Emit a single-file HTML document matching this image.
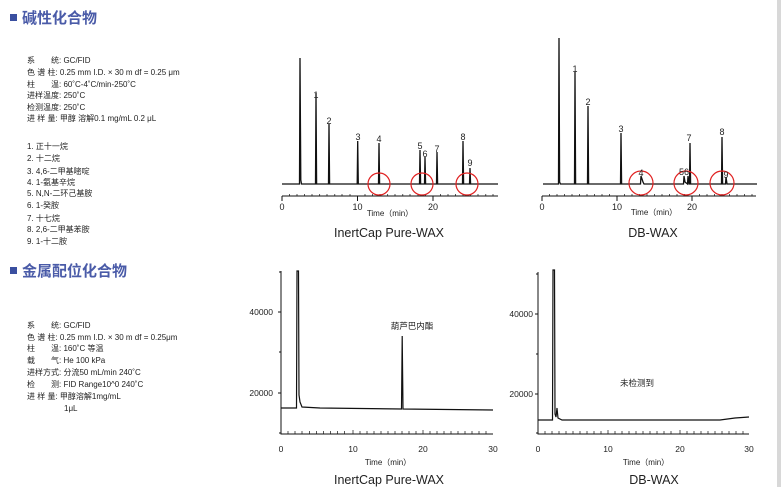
<!DOCTYPE html>
<html><head><meta charset="utf-8"><style>
html,body{margin:0;padding:0;background:#fff;}
svg{display:block;font-family:"Liberation Sans","Noto Sans CJK SC",sans-serif;}
</style></head><body>
<svg width="781" height="487" viewBox="0 0 781 487" xmlns="http://www.w3.org/2000/svg">
<rect x="777" y="0" width="4" height="487" fill="#d8d8d8"/>
<rect x="10" y="14" width="7" height="7" fill="#3a4fa0"/>
<text x="22" y="23" font-size="15" font-weight="bold" fill="#4a5ba8">碱性化合物</text>
<rect x="10" y="267" width="7" height="7" fill="#3a4fa0"/>
<text x="22" y="276" font-size="15" font-weight="bold" fill="#4a5ba8">金属配位化合物</text>

<g font-size="8" fill="#222">
<text x="27" y="63">系　　统: GC/FID</text>
<text x="27" y="75">色 谱 柱: 0.25 mm I.D. × 30 m df = 0.25 μm</text>
<text x="27" y="87">柱　　温: 60˚C-4˚C/min-250˚C</text>
<text x="27" y="98">进样温度: 250˚C</text>
<text x="27" y="110">检测温度: 250˚C</text>
<text x="27" y="121">进 样 量: 甲醇 溶解0.1 mg/mL  0.2 μL</text>
<text x="27" y="149">1. 正十一烷</text>
<text x="27" y="161">2. 十二烷</text>
<text x="27" y="174">3. 4,6-二甲基嘧啶</text>
<text x="27" y="185">4. 1-氨基辛烷</text>
<text x="27" y="196">5. N,N-二环己基胺</text>
<text x="27" y="208">6. 1-癸胺</text>
<text x="27" y="221">7. 十七烷</text>
<text x="27" y="232">8. 2,6-二甲基苯胺</text>
<text x="27" y="244">9. 1-十二胺</text>

<text x="27" y="328">系　　统: GC/FID</text>
<text x="27" y="340">色 谱 柱: 0.25 mm I.D. × 30 m df = 0.25μm</text>
<text x="27" y="351">柱　　温: 160˚C 等温</text>
<text x="27" y="363">载　　气: He 100 kPa</text>
<text x="27" y="375">进样方式: 分流50 mL/min 240˚C</text>
<text x="27" y="387">检　　测: FID Range10^0 240˚C</text>
<text x="27" y="399">进 样 量: 甲醇溶解1mg/mL</text>
<text x="64" y="411">1μL</text>
</g>

<!-- Chart 1 -->
<g stroke="#111" fill="none" stroke-width="1">
<path d="M282 184 L299.5 184 L300 58 L300.8 180 L301.5 184 L315.5 184 L316 93 L316.6 184 L328.5 184 L329 124 L329.6 184 L357.2 184 L357.7 141 L358.3 184 L378.5 184 L379 143 L379.6 184 L419.5 184 L420 150 L420.6 184 L424.5 184 L425 157 L425.6 184 L436.5 184 L437 152 L437.6 184 L462.5 184 L463 141 L463.6 184 L469.5 184 L470 168 L470.6 184 L498 184" stroke-width="1.3"/>
<path d="M282 196 H498"/>
<path d="M282 196 V201 M357.5 196 V201 M433 196 V201"/>
</g>
<g stroke="#111" stroke-width="0.7">
<path d="M289.5 196v-2M297 196v-2M304.6 196v-2M312 196v-2M319.7 196v-2M327 196v-2M334.8 196v-2M342 196v-2M350 196v-2M365 196v-2M372.6 196v-2M380 196v-2M387.7 196v-2M395 196v-2M402.8 196v-2M410 196v-2M418 196v-2M425.5 196v-2M440.5 196v-2M448 196v-2M455.6 196v-2M463 196v-2M470.7 196v-2M478 196v-2M485.8 196v-2M493 196v-2"/>
</g>
<g fill="none" stroke="#e02020" stroke-width="1.2">
<circle cx="379" cy="184" r="11"/><circle cx="422" cy="184" r="11"/><circle cx="467" cy="184" r="11"/>
</g>
<g font-size="9" fill="#222" text-anchor="middle">
<text x="316" y="98">1</text><text x="329" y="124">2</text><text x="358" y="140">3</text><text x="379" y="142">4</text>
<text x="420" y="149">5</text><text x="425" y="157">6</text><text x="437" y="152">7</text><text x="463" y="140">8</text><text x="470" y="166">9</text>
<text x="282" y="210">0</text><text x="357.5" y="210">10</text><text x="433" y="210">20</text>
<text x="390" y="216" font-size="8">Time（min）</text>
<text x="389" y="237" font-size="12.5">InertCap Pure-WAX</text>
</g>

<!-- Chart 2 -->
<g stroke="#111" fill="none" stroke-width="1">
<path d="M543 184 L558.5 184 L559 38 L559.6 182 L560.5 184 L574.5 184 L575 72 L575.6 184 L587.5 184 L588 106 L588.6 184 L620.5 184 L621 133 L621.6 184 L640.5 184 L641 176 L643 182 L644 184 L683.5 184 L684 176 L685 182 L687.5 184 L688 176 L689 184 L689.5 184 L690 143 L690.6 184 L721.5 184 L722 137 L722.6 184 L725.5 184 L726 177 L727 184 L757 184" stroke-width="1.3"/>
<path d="M542 196 H756"/>
<path d="M542 196 V201 M617 196 V201 M692 196 V201"/>
</g>
<g stroke="#111" stroke-width="0.7">
<path d="M549.5 196v-2M557 196v-2M564.5 196v-2M572 196v-2M579.5 196v-2M587 196v-2M594.5 196v-2M602 196v-2M609.5 196v-2M624.5 196v-2M632 196v-2M639.5 196v-2M647 196v-2M654.5 196v-2M662 196v-2M669.5 196v-2M677 196v-2M684.5 196v-2M699.5 196v-2M707 196v-2M714.5 196v-2M722 196v-2M729.5 196v-2M737 196v-2M744.5 196v-2M752 196v-2"/>
</g>
<g fill="none" stroke="#e02020" stroke-width="1.2">
<circle cx="641" cy="183" r="12"/><circle cx="686" cy="183" r="12"/><circle cx="722" cy="183" r="12"/>
</g>
<g font-size="9" fill="#222" text-anchor="middle">
<text x="575" y="72">1</text><text x="588" y="105">2</text><text x="621" y="132">3</text><text x="641" y="176">4</text>
<text x="684" y="175">56</text><text x="689" y="141">7</text><text x="722" y="135">8</text><text x="726" y="178">9</text>
<text x="542" y="210">0</text><text x="617" y="210">10</text><text x="692" y="210">20</text>
<text x="654" y="215" font-size="8">Time（min）</text>
<text x="653" y="237" font-size="12.5">DB-WAX</text>
</g>

<!-- Chart 3 -->
<g stroke="#111" fill="none" stroke-width="1">
<path d="M281 271 V434 H493"/>
<path d="M281 312 h-3 M281 393 h-3 M281 352 h-2 M281 272 h-2 M281 433 h-2"/>
<path d="M281 408 L296.5 408 L297 271 L298.5 271 L299 395 L300 402 L302 407 L320 408 L401.5 409 L402.2 336 L403 409 L493 410" stroke-width="1.2"/>
</g>
<g stroke="#111" stroke-width="0.7">
<path d="M288 434v-3M295 434v-3M302 434v-3M309.5 434v-3M316.5 434v-3M323.5 434v-3M330.5 434v-3M337.5 434v-3M344.5 434v-3M353 434v-4M360 434v-3M367 434v-3M374 434v-3M381 434v-3M388 434v-3M395 434v-3M402 434v-3M409 434v-3M416 434v-3M423 434v-4M430 434v-3M437 434v-3M444 434v-3M451 434v-3M458 434v-3M465 434v-3M472 434v-3M479 434v-3M486 434v-3"/>
</g>
<g font-size="8.5" fill="#222" text-anchor="end">
<text x="273" y="315">40000</text><text x="273" y="396">20000</text>
</g>
<g font-size="8.5" fill="#222" text-anchor="middle">
<text x="281" y="452">0</text><text x="353" y="452">10</text><text x="423" y="452">20</text><text x="493" y="452">30</text>
<text x="388" y="465" font-size="8">Time（min）</text>
<text x="389" y="484" font-size="12.5">InertCap Pure-WAX</text>
<text x="412" y="329" font-size="8.5">葫芦巴内酯</text>
</g>

<!-- Chart 4 -->
<g stroke="#111" fill="none" stroke-width="1">
<path d="M538 272 V434 H749"/>
<path d="M538 314 h-3 M538 394 h-3 M538 354 h-2 M538 274 h-2 M538 433 h-2"/>
<path d="M538 420 L552.5 420 L553 270 L554.5 270 L555 414 L556 417 L557 408 L558 418 L562 420 L720 420 L735 418 L749 417" stroke-width="1.2"/>
</g>
<g stroke="#111" stroke-width="0.7">
<path d="M545 434v-3M552 434v-3M559 434v-3M566 434v-3M573 434v-3M580 434v-3M587 434v-3M594 434v-3M601 434v-3M608 434v-4M615 434v-3M622 434v-3M629 434v-3M636 434v-3M643 434v-3M650 434v-3M657 434v-3M664 434v-3M671 434v-3M680 434v-4M687 434v-3M694 434v-3M701 434v-3M708 434v-3M715 434v-3M722 434v-3M729 434v-3M736 434v-3M743 434v-3"/>
</g>
<g font-size="8.5" fill="#222" text-anchor="end">
<text x="533" y="317">40000</text><text x="533" y="397">20000</text>
</g>
<g font-size="8.5" fill="#222" text-anchor="middle">
<text x="538" y="452">0</text><text x="608" y="452">10</text><text x="680" y="452">20</text><text x="749" y="452">30</text>
<text x="646" y="465" font-size="8">Time（min）</text>
<text x="654" y="484" font-size="12.5">DB-WAX</text>
<text x="637" y="386">未检测到</text>
</g>
</svg>
</body></html>
